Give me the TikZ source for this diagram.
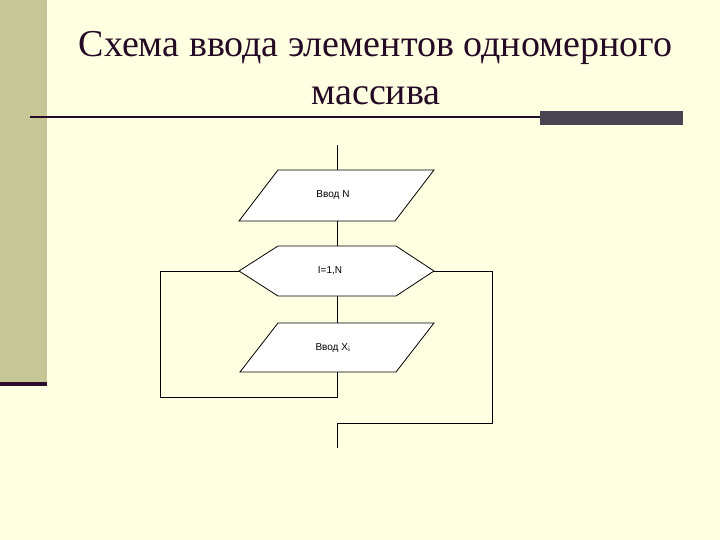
\documentclass[tikz,border=0pt]{standalone}
\usepackage{fontspec}
\setmainfont{Liberation Serif}
\newfontfamily\flowfont{Liberation Sans}
\definecolor{bgyellow}{HTML}{FFFFE1}
\definecolor{barolive}{HTML}{C6C696}
\definecolor{bardark}{HTML}{2E0C2E}
\definecolor{titlecol}{HTML}{250A25}
\definecolor{boxgray}{HTML}{4A4352}
\tikzset{
  flowline/.style={line width=0.8pt, black},
  flowshape/.style={line width=0.8pt, draw=black, fill=white},
  flowtext/.style={font=\flowfont\fontsize{10}{12}\selectfont, inner sep=0pt},
  titletext/.style={font=\fontsize{38}{40}\selectfont, text=titlecol, anchor=base, inner sep=0pt}
}
\begin{document}
\begin{tikzpicture}[x=1pt,y=-1pt]
\useasboundingbox (0,0) rectangle (720,540);
\fill[bgyellow] (0,0) rectangle (720,540);
% left bar
\fill[barolive] (0,0) rectangle (47,382);
\fill[bardark] (0,382) rectangle (47,386);
% title
\node[titletext] (t1) at (375.5,57) {Схема ввода элементов одномерного};
\node[titletext] (t2) at (376,105) {массива};
% rule
\draw[line width=2pt, color=titlecol] (30,117) -- (540,117);
\fill[boxgray] (540,111) rectangle (683,125);
% flowchart coordinates
\coordinate (top) at (337,145);
\coordinate (p1t) at (337,170);
\coordinate (p1b) at (337,221);
\coordinate (hxt) at (337,246);
\coordinate (hxb) at (337,296);
\coordinate (hxl) at (239,271);
\coordinate (hxr) at (434,271);
\coordinate (p2t) at (337,323);
\coordinate (p2b) at (337,372);
\coordinate (lpa) at (337,397);
\coordinate (lpb) at (160,397);
\coordinate (lpc) at (160,271);
\coordinate (rpa) at (492,271);
\coordinate (rpb) at (492,423);
\coordinate (rpc) at (337,423);
\coordinate (bot) at (337,448);
% shapes
\draw[flowshape] (278,170) -- (434,170) -- (395,221) -- (239,221) -- cycle;
\draw[flowshape] (278,246) -- (396,246) -- (hxr) -- (396,296) -- (278,296) -- (hxl) -- cycle;
\draw[flowshape] (278,323) -- (434,323) -- (396,372) -- (240,372) -- cycle;
% texts
\node[flowtext] (n1) at (333,195) {Ввод N};
\node[flowtext] (n2) at (330,271) {I=1,N};
\node[flowtext] (n3) at (333,348) {Ввод X$_{\mathrm{i}}$};
% connectors
\draw[flowline] (top) -- (p1t);
\draw[flowline] (p1b) -- (hxt);
\draw[flowline] (hxb) -- (p2t);
\draw[flowline] (p2b) -- (lpa) -- (lpb) -- (lpc) -- (hxl);
\draw[flowline] (hxr) -- (rpa) -- (rpb) -- (rpc) -- (bot);
\end{tikzpicture}
\end{document}
